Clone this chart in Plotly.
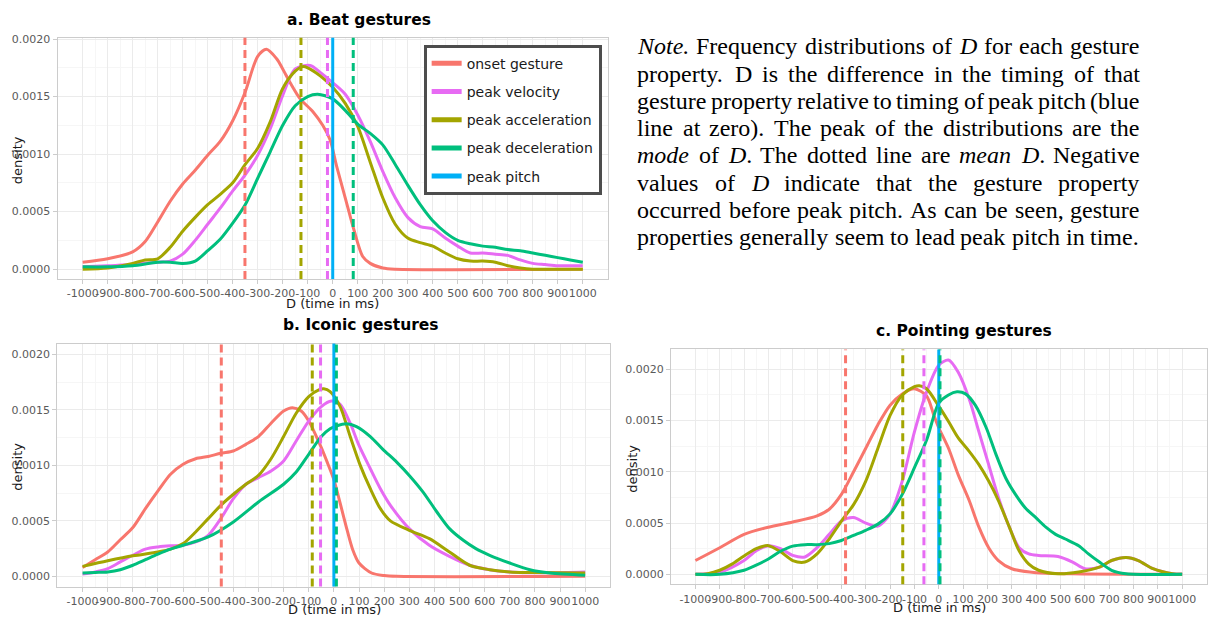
import plotly.graph_objects as go

W, H = 1208, 619

# ---------------- DATA (density values in units of 1e-3) ----------------
SCALE = 1e-3
X_TICKS = list(range(-1000, 1001, 100))
Y_TICKS = [0.0, 0.0005, 0.0010, 0.0015, 0.0020]
Y_TICK_TEXT = ["0.0000", "0.0005", "0.0010", "0.0015", "0.0020"]

PROPS = ["onset gesture", "peak velocity", "peak acceleration", "peak deceleration", "peak pitch"]
COLORS = ["#F8766D", "#E76BF3", "#A3A500", "#00BF7D", "#00B0F6"]
PEAK_PITCH_X = 0

# a. Beat gestures
a_onset_x = [-1000, -900, -800, -750, -700, -650, -600, -550, -500, -450, -400, -350, -300, -265, -225, -200, -170, -130, -80, -40, -10, 15, 50, 85, 120, 150, 200, 250, 1000]
a_onset_y = [0.06, 0.09, 0.15, 0.24, 0.41, 0.59, 0.74, 0.86, 0.99, 1.11, 1.29, 1.54, 1.85, 1.91, 1.83, 1.74, 1.62, 1.48, 1.37, 1.25, 1.12, 0.90, 0.62, 0.34, 0.11, 0.05, 0.01, 0.0, 0.0]
a_vel_x = [-1000, -900, -800, -700, -650, -600, -550, -500, -450, -400, -350, -300, -250, -200, -150, -90, -50, 0, 50, 100, 150, 200, 250, 300, 350, 400, 450, 500, 550, 600, 650, 700, 750, 800, 850, 900, 1000]
a_vel_y = [0.02, 0.03, 0.04, 0.06, 0.07, 0.13, 0.25, 0.39, 0.53, 0.68, 0.82, 0.99, 1.22, 1.51, 1.74, 1.77, 1.71, 1.62, 1.52, 1.34, 1.11, 0.85, 0.62, 0.45, 0.37, 0.35, 0.27, 0.20, 0.14, 0.14, 0.13, 0.12, 0.08, 0.05, 0.04, 0.03, 0.03]
a_acc_x = [-1000, -900, -800, -750, -700, -650, -600, -550, -500, -450, -400, -350, -300, -250, -200, -150, -120, -100, -50, 0, 50, 100, 150, 200, 250, 300, 350, 400, 450, 500, 550, 600, 650, 700, 750, 800, 1000]
a_acc_y = [0.0, 0.01, 0.05, 0.08, 0.09, 0.19, 0.33, 0.45, 0.56, 0.65, 0.75, 0.91, 1.05, 1.28, 1.57, 1.72, 1.76, 1.75, 1.68, 1.58, 1.44, 1.24, 0.93, 0.62, 0.39, 0.27, 0.23, 0.20, 0.14, 0.09, 0.07, 0.07, 0.06, 0.03, 0.01, 0.0, 0.0]
a_dec_x = [-1000, -900, -800, -700, -650, -600, -550, -500, -450, -400, -350, -300, -250, -200, -150, -100, -60, 0, 50, 100, 150, 200, 250, 300, 350, 400, 450, 500, 550, 600, 650, 700, 750, 800, 850, 900, 950, 1000]
a_dec_y = [0.02, 0.02, 0.03, 0.06, 0.06, 0.05, 0.07, 0.16, 0.26, 0.40, 0.56, 0.79, 1.02, 1.25, 1.42, 1.50, 1.52, 1.48, 1.38, 1.26, 1.18, 1.08, 0.91, 0.73, 0.56, 0.42, 0.32, 0.25, 0.22, 0.20, 0.19, 0.17, 0.16, 0.14, 0.12, 0.10, 0.08, 0.06]
a_means = [-351, -21, -127, 82]

# b. Iconic gestures
b_onset_x = [-1000, -950, -900, -850, -800, -750, -700, -650, -600, -550, -500, -450, -400, -350, -300, -250, -200, -165, -130, -100, -50, -25, 0, 25, 50, 75, 100, 150, 200, 250, 1000]
b_onset_y = [0.08, 0.15, 0.22, 0.33, 0.44, 0.61, 0.77, 0.92, 1.01, 1.06, 1.08, 1.11, 1.13, 1.19, 1.26, 1.38, 1.49, 1.52, 1.49, 1.40, 1.16, 1.02, 0.87, 0.66, 0.44, 0.24, 0.12, 0.03, 0.007, 0.0, 0.0]
b_vel_x = [-1000, -950, -900, -850, -800, -750, -700, -650, -600, -550, -500, -450, -400, -350, -300, -250, -200, -150, -100, -50, -10, 25, 65, 100, 145, 185, 225, 300, 380, 460, 540, 620, 700, 780, 860, 1000]
b_vel_y = [0.02, 0.04, 0.07, 0.13, 0.19, 0.245, 0.265, 0.275, 0.28, 0.31, 0.37, 0.52, 0.70, 0.83, 0.89, 0.95, 1.04, 1.22, 1.40, 1.53, 1.58, 1.55, 1.38, 1.18, 0.97, 0.79, 0.64, 0.43, 0.28, 0.18, 0.10, 0.06, 0.04, 0.033, 0.033, 0.04]
b_acc_x = [-1000, -900, -800, -700, -650, -600, -550, -500, -450, -400, -350, -300, -250, -200, -150, -100, -60, -40, -15, 25, 65, 105, 145, 185, 225, 300, 380, 460, 540, 620, 700, 780, 1000]
b_acc_y = [0.09, 0.14, 0.185, 0.22, 0.245, 0.295, 0.40, 0.52, 0.64, 0.74, 0.83, 0.91, 1.06, 1.26, 1.47, 1.62, 1.68, 1.69, 1.665, 1.53, 1.26, 1.0, 0.79, 0.61, 0.50, 0.415, 0.34, 0.22, 0.10, 0.06, 0.04, 0.035, 0.03]
b_dec_x = [-1000, -950, -900, -850, -800, -750, -700, -650, -600, -500, -400, -300, -200, -150, -100, -50, -15, 10, 50, 90, 145, 195, 250, 300, 355, 410, 460, 515, 565, 620, 700, 780, 860, 1000]
b_dec_y = [0.03, 0.035, 0.04, 0.06, 0.10, 0.15, 0.20, 0.245, 0.28, 0.355, 0.49, 0.67, 0.83, 0.94, 1.10, 1.26, 1.33, 1.355, 1.375, 1.35, 1.26, 1.145, 1.03, 0.91, 0.76, 0.58, 0.43, 0.325, 0.25, 0.19, 0.12, 0.06, 0.03, 0.01]
b_means = [-448, -53, -86, 10]

# c. Pointing gestures
c_onset_x = [-1000, -900, -800, -700, -600, -500, -450, -400, -350, -300, -250, -200, -150, -100, -50, -20, 0, 40, 80, 125, 165, 205, 245, 300, 400, 550, 1000]
c_onset_y = [0.135, 0.26, 0.39, 0.46, 0.51, 0.57, 0.635, 0.78, 1.0, 1.23, 1.46, 1.65, 1.76, 1.81, 1.74, 1.55, 1.43, 1.23, 0.97, 0.72, 0.46, 0.26, 0.135, 0.055, 0.016, 0.005, 0.0]
c_vel_x = [-1000, -900, -800, -750, -700, -650, -600, -550, -500, -450, -400, -350, -300, -250, -200, -150, -100, -50, 0, 40, 80, 125, 165, 205, 245, 290, 330, 370, 410, 490, 550, 600, 660, 710, 770, 820, 880, 960, 1000]
c_vel_y = [0.0, 0.02, 0.135, 0.23, 0.28, 0.25, 0.185, 0.17, 0.26, 0.39, 0.52, 0.555, 0.50, 0.47, 0.59, 0.91, 1.39, 1.78, 2.04, 2.09, 1.97, 1.71, 1.39, 1.07, 0.75, 0.46, 0.26, 0.20, 0.185, 0.175, 0.12, 0.055, 0.07, 0.135, 0.165, 0.135, 0.055, 0.006, 0.0]
c_acc_x = [-1000, -950, -900, -850, -800, -750, -700, -650, -600, -550, -500, -450, -400, -350, -300, -250, -200, -150, -100, -80, -50, 0, 40, 80, 125, 165, 205, 245, 290, 330, 370, 410, 490, 575, 660, 710, 770, 820, 880, 960, 1000]
c_acc_y = [0.0, 0.007, 0.04, 0.10, 0.18, 0.25, 0.28, 0.22, 0.135, 0.12, 0.20, 0.345, 0.52, 0.68, 0.91, 1.23, 1.55, 1.75, 1.83, 1.84, 1.81, 1.64, 1.49, 1.33, 1.20, 1.07, 0.91, 0.72, 0.46, 0.23, 0.10, 0.04, 0.006, 0.023, 0.07, 0.135, 0.165, 0.135, 0.055, 0.006, 0.0]
c_dec_x = [-1000, -900, -800, -750, -700, -650, -600, -550, -500, -450, -400, -350, -300, -250, -200, -150, -100, -50, 0, 40, 75, 110, 150, 195, 235, 275, 315, 355, 400, 440, 480, 520, 575, 615, 660, 710, 770, 1000]
c_dec_y = [0.0, 0.0, 0.04, 0.09, 0.15, 0.225, 0.275, 0.29, 0.29, 0.30, 0.33, 0.38, 0.43, 0.49, 0.59, 0.78, 1.04, 1.31, 1.67, 1.75, 1.78, 1.76, 1.65, 1.43, 1.17, 0.94, 0.78, 0.65, 0.55, 0.46, 0.39, 0.345, 0.28, 0.20, 0.12, 0.04, 0.006, 0.0]
c_means = [-383, -61, -148, 5]

TITLES = ["a. Beat gestures", "b. Iconic gestures", "c. Pointing gestures"]
X_TITLE = "D (time in ms)"
Y_TITLE = "density"

NOTE_LINES = [
    "*Note.* Frequency distributions of *D* for each gesture",
    "property. D is the difference in the timing of that",
    "gesture property relative to timing of peak pitch (blue",
    "line at zero). The peak of the distributions are the",
    "*mode* of *D*. The dotted line are *mean D*. Negative",
    "values of *D* indicate that the gesture property",
    "occurred before peak pitch. As can be seen, gesture",
    "properties generally seem to lead peak pitch in time.",
]

# ---------------- LAYOUT GEOMETRY (pixels) ----------------
PANELS = [
    dict(l=57.7, r=608.3, t=33.0, b=276.3, yr=[-0.0000862, 0.002011]),
    dict(l=57.5, r=610.8, t=341.3, b=586.3, yr=[-0.0000921, 0.0020984]),
    dict(l=671.6, r=1207.5, t=347.3, b=584.0, yr=[-0.0000967, 0.002193]),
]
TITLE_POS = [(359, 15), (361, 323), (965, 329)]
XT_POS = [(333, 301), (334.5, 609), (940, 607)]
YT_POS = [(17.5, 156), (17.5, 465), (633, 467)]

FONT = "DejaVu Sans"

panel_series = [
    [(a_onset_x, a_onset_y), (a_vel_x, a_vel_y), (a_acc_x, a_acc_y), (a_dec_x, a_dec_y)],
    [(b_onset_x, b_onset_y), (b_vel_x, b_vel_y), (b_acc_x, b_acc_y), (b_dec_x, b_dec_y)],
    [(c_onset_x, c_onset_y), (c_vel_x, c_vel_y), (c_acc_x, c_acc_y), (c_dec_x, c_dec_y)],
]
panel_means = [a_means, b_means, c_means]

fig = go.Figure()
shapes = []
annotations = []

for pi, series in enumerate(panel_series):
    sfx = "" if pi == 0 else str(pi + 1)
    xa, ya = "x" + sfx, "y" + sfx
    for si, (xs, ys) in enumerate(series):
        fig.add_trace(go.Scatter(
            x=xs, y=[v * SCALE for v in ys], mode="lines", xaxis=xa, yaxis=ya,
            line=dict(color=COLORS[si], width=3, shape="spline", smoothing=0.8),
            showlegend=False, hoverinfo="skip"))
    shapes.append(dict(type="line", xref=xa, yref=ya + " domain", x0=PEAK_PITCH_X, x1=PEAK_PITCH_X,
                       y0=0, y1=1, line=dict(color=COLORS[4], width=3)))
    for si, m in enumerate(panel_means[pi]):
        shapes.append(dict(type="line", xref=xa, yref=ya + " domain", x0=m, x1=m, y0=0, y1=1,
                           line=dict(color=COLORS[si], width=3, dash="8px,5px")))

for i, name in enumerate(PROPS):
    fig.add_trace(go.Scatter(x=[None], y=[None], mode="lines", name=name,
                             line=dict(color=COLORS[i], width=5), legendgroup=name,
                             showlegend=True, xaxis="x", yaxis="y"))

axis_common = dict(showline=True, mirror=True, linecolor="#cccccc", linewidth=1.3,
                   gridcolor="#ebebeb", gridwidth=1, zeroline=False,
                   ticks="outside", ticklen=4, tickcolor="#cccccc", tickwidth=1,
                   tickfont=dict(family=FONT, size=11, color="#5a5a5a"))

layout = dict(width=W, height=H, margin=dict(l=0, r=0, t=0, b=0), autosize=False,
              paper_bgcolor="white", plot_bgcolor="white", showlegend=True,
              font=dict(family=FONT))

for pi, p in enumerate(PANELS):
    sfx = "" if pi == 0 else str(pi + 1)
    layout["xaxis" + sfx] = dict(
        domain=[p["l"] / W, p["r"] / W], range=[-1100, 1100], anchor="y" + sfx,
        tickvals=X_TICKS, ticktext=[str(v) for v in X_TICKS], tickangle=0,
        minor=dict(tickvals=[v + 50 for v in X_TICKS[:-1]], showgrid=True, gridcolor="#f6f6f6", ticks=""),
        **axis_common)
    layout["yaxis" + sfx] = dict(
        domain=[1 - p["b"] / H, 1 - p["t"] / H], range=p["yr"], anchor="x" + sfx,
        tickvals=Y_TICKS, ticktext=Y_TICK_TEXT,
        minor=dict(tickvals=[0.00025, 0.00075, 0.00125, 0.00175], showgrid=True, gridcolor="#f6f6f6", ticks=""),
        **axis_common)
    tx, ty = TITLE_POS[pi]
    annotations.append(dict(text="<b>%s</b>" % TITLES[pi], x=tx / W, y=1 - ty / H, xref="paper", yref="paper",
                            xanchor="center", yanchor="middle", showarrow=False,
                            font=dict(family=FONT, size=15.5, color="#000000")))
    ax_, ay_ = XT_POS[pi]
    annotations.append(dict(text=X_TITLE, x=ax_ / W, y=1 - ay_ / H, xref="paper", yref="paper",
                            xanchor="center", yanchor="middle", showarrow=False,
                            font=dict(family=FONT, size=13, color="#1a1a1a")))
    yx_, yy_ = YT_POS[pi]
    annotations.append(dict(text=Y_TITLE, x=yx_ / W, y=1 - yy_ / H, xref="paper", yref="paper",
                            xanchor="center", yanchor="middle", showarrow=False, textangle=-90,
                            font=dict(family=FONT, size=13, color="#1a1a1a")))

# ---------------- Note text (justified, Times metrics) ----------------
ROMAN = {" ": 250, "(": 333, ")": 333, ",": 250, ".": 250,
         "a": 444, "b": 500, "c": 444, "d": 500, "e": 444, "f": 333, "g": 500, "h": 500, "i": 278,
         "j": 278, "k": 500, "l": 278, "m": 778, "n": 500, "o": 500, "p": 500, "q": 500, "r": 333,
         "s": 389, "t": 278, "u": 500, "v": 500, "w": 722, "x": 500, "y": 500, "z": 444,
         "A": 722, "D": 722, "F": 556, "N": 722, "T": 611}
ITALIC = {".": 250, "a": 500, "d": 500, "e": 444, "m": 722, "n": 500, "o": 500, "t": 278,
          "D": 722, "N": 667, " ": 250}
NOTE_SIZE = 24
NOTE_FONT = "Liberation Serif, Times New Roman, serif"
NOTE_X0, NOTE_X1 = 637, 1139.5
NOTE_Y0, NOTE_DY = 41.7, 27.5


def parse(line):
    state = False
    words = []
    for w in line.split(" "):
        segs, cur = [], ""
        for ch in w:
            if ch == "*":
                if cur:
                    segs.append((cur, state))
                    cur = ""
                state = not state
            else:
                cur += ch
        if cur:
            segs.append((cur, state))
        words.append(segs)
    return words


def seg_width(segs):
    tot = 0
    for t, it in segs:
        tab = ITALIC if it else ROMAN
        for ch in t:
            tot += tab.get(ch, ROMAN.get(ch, 500))
    return tot * NOTE_SIZE / 1000.0


for li, line in enumerate(NOTE_LINES):
    words = parse(line)
    widths = [seg_width(w) for w in words]
    last = li == len(NOTE_LINES) - 1
    if last or len(words) < 2:
        gap = 250 * NOTE_SIZE / 1000.0
    else:
        gap = (NOTE_X1 - NOTE_X0 - sum(widths)) / (len(words) - 1)
    xpos = NOTE_X0
    ypix = NOTE_Y0 + li * NOTE_DY
    for w, wd in zip(words, widths):
        html = "".join("<i>%s</i>" % t if it else t for t, it in w)
        annotations.append(dict(text=html, x=xpos / W, y=1 - ypix / H, xref="paper", yref="paper",
                                xanchor="left", yanchor="middle", showarrow=False, borderpad=0,
                                font=dict(family=NOTE_FONT, size=NOTE_SIZE, color="#000000")))
        xpos += wd + gap

layout["annotations"] = annotations
layout["shapes"] = shapes
layout["legend"] = dict(x=424 / W, y=1 - 40 / H, xanchor="left", yanchor="top",
                        bgcolor="white", bordercolor="#4d4d4d", borderwidth=3,
                        font=dict(family=FONT, size=14, color="#1a1a1a"),
                        tracegroupgap=7, traceorder="grouped")

fig.update_layout(**layout)
fig.write_html("out.html", config={"displayModeBar": False},
               post_script="document.body.style.margin='0';document.body.style.padding='0';"
                           "document.body.style.overflow='hidden';")
